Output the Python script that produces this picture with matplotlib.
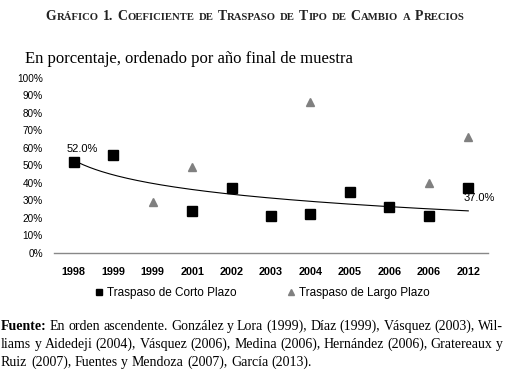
import matplotlib
matplotlib.use("Agg")
import matplotlib.pyplot as plt
from matplotlib.lines import Line2D
import numpy as np

# data
years = ["1998", "1999", "1999", "2001", "2002", "2003", "2004", "2005", "2006", "2006", "2012"]
corto = [52, 56, np.nan, 24, 37, 21, 22, 35, 26, 21, 37]
largo = [np.nan, np.nan, 29, 49, np.nan, np.nan, 86, np.nan, np.nan, 40, 66]
yticks = list(range(0, 101, 10))

title = "Gráfico 1. Coeficiente de Traspaso de Tipo de Cambio a Precios"
subtitle = "En porcentaje, ordenado por año final de muestra"
footer = [
    "Fuente: En orden ascendente. González y Lora (1999), Díaz (1999), Vásquez (2003), Wil-",
    "liams y Aidedeji (2004), Vásquez (2006), Medina (2006), Hernández (2006), Gratereaux y",
    "Ruiz (2007), Fuentes y Mendoza (2007), García (2013).",
]

W, H = 516, 378
SERIF = "Liberation Serif"
SANS = "Liberation Sans"

fig = plt.figure(figsize=(W / 100, H / 100), dpi=100)
renderer = fig.canvas.get_renderer()


def text_width(s, **kw):
    t = fig.text(0, 0, s, **kw)
    w = t.get_window_extent(renderer).width
    t.remove()
    return w


# ---- title in small caps, centred
big, small = 9.9, 7.7
tkw = dict(family=SERIF, fontweight="bold", color="#222222")
space = text_width("I I", fontsize=big, **tkw) - text_width("II", fontsize=big, **tkw)

words = []
for word in title.split():
    pieces = []
    for ch in word:
        size = small if ch.islower() else big
        if pieces and pieces[-1][1] == size:
            pieces[-1][0] += ch.upper()
        else:
            pieces.append([ch.upper(), size])
    for p in pieces:
        p.append(text_width(p[0], fontsize=p[1], **tkw))
    words.append(pieces)

total = sum(sum(p[2] + 0.6 for p in w) for w in words) + space * (len(words) - 1)
x = 255 - total / 2
for w in words:
    for s, size, wd in w:
        fig.text(x / W, 1 - 20 / H, s, fontsize=size, va="baseline", ha="left", **tkw)
        x += wd + 0.6
    x += space

fig.text(25 / W, 1 - 63 / H, subtitle, fontsize=12, family=SERIF, va="baseline")

# ---- chart
ax = fig.add_axes([54 / W, 1 - 252.7 / H, 434 / W, 174.7 / H])
pos = np.arange(len(years))

ax.plot(pos, corto, ls="none", marker="s", ms=7, color="black", zorder=3)
ax.plot(pos, largo, ls="none", marker="^", ms=6, color="#808080", zorder=3)

# logarithmic trend of the short term series
cv = np.array(corto, dtype=float)
ok = ~np.isnan(cv)
a, b = np.polyfit(np.log(pos[ok] + 1), cv[ok], 1)
xs = np.linspace(0, len(years) - 1, 200)
ax.plot(xs, a * np.log(xs + 1) + b, color="black", lw=0.8, zorder=2)

ax.annotate(f"{corto[0]:.1f}%", (pos[0], corto[0]), xytext=(6.5, 9.5),
            textcoords="offset points", ha="center", va="center",
            fontsize=8, family=SANS)
ax.annotate(f"{corto[-1]:.1f}%", (pos[-1], corto[-1]), xytext=(8, -7.5),
            textcoords="offset points", ha="center", va="center",
            fontsize=8, family=SANS)

ax.set_xlim(-0.5, len(years) - 0.5)
ax.set_ylim(0, 100)
ax.set_xticks(pos)
ax.set_xticklabels(years, fontsize=7.8, fontweight="bold", family=SANS)
ax.set_yticks(yticks)
ax.set_yticklabels([f"{v}%" for v in yticks], fontsize=7.2, family=SANS)
ax.tick_params(length=0)
ax.tick_params(axis="x", pad=10)
ax.tick_params(axis="y", pad=8)
for sp in ["top", "right", "left"]:
    ax.spines[sp].set_visible(False)
ax.spines["bottom"].set_color("#888888")
ax.spines["bottom"].set_linewidth(1)
ax.patch.set_alpha(0)

handles = [
    Line2D([], [], ls="none", marker="s", ms=5, color="black", label="Traspaso de Corto Plazo"),
    Line2D([], [], ls="none", marker="^", ms=4.5, color="#808080", label="Traspaso de Largo Plazo"),
]
fig.legend(handles=handles, loc="center", bbox_to_anchor=(262 / W, 1 - 293 / H), ncol=2,
           frameon=False, prop=dict(family=SANS, size=8.5), handlelength=0.8,
           handletextpad=0.3, columnspacing=4.2, borderaxespad=0)

# ---- footer, justified
fsize = 10
baselines = [330, 348, 366]
for i, line in enumerate(footer):
    ws = line.split()
    kws = []
    widths = []
    for j, w in enumerate(ws):
        kw = dict(fontsize=fsize, family=SERIF,
                  fontweight="bold" if (i == 0 and j == 0) else "normal")
        kws.append(kw)
        widths.append(text_width(w, **kw))
    if i < len(footer) - 1:
        gap = (503 - 1 - sum(widths)) / (len(ws) - 1)
    else:
        gap = text_width("a a", fontsize=fsize, family=SERIF) - text_width("aa", fontsize=fsize, family=SERIF)
    x = 1
    for w, kw, wd in zip(ws, kws, widths):
        fig.text(x / W, 1 - baselines[i] / H, w, va="baseline", ha="left", **kw)
        x += wd + gap

fig.savefig("out.png", dpi=100)
